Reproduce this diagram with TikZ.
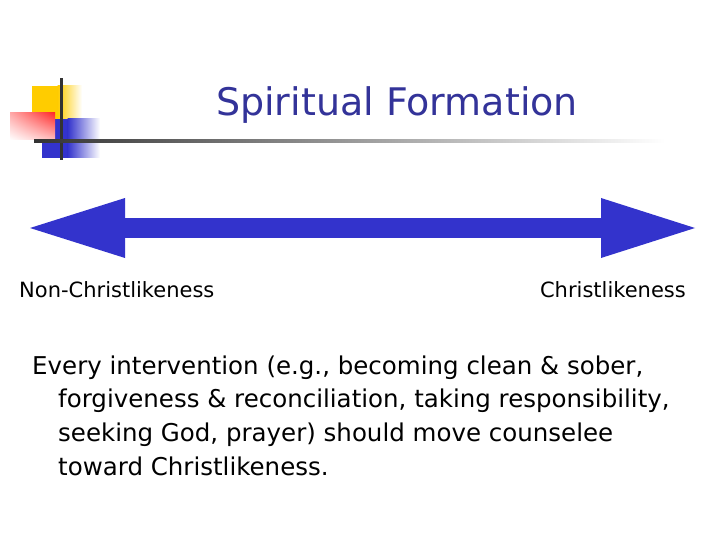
\documentclass[tikz,border=0pt]{standalone}
\usepackage{fontspec}
\setmainfont{DejaVu Sans}
\usetikzlibrary{arrows.meta,shadings}

\definecolor{spectrumblue}{HTML}{3333CC}
\definecolor{titleblue}{HTML}{333399}
\definecolor{logoyellow}{HTML}{FFCC00}
\definecolor{logored}{HTML}{FF2A2A}
\definecolor{logoline}{HTML}{333333}

\tikzset{
    titletext/.style = {inner sep=0pt, text=titleblue, font=\fontsize{38}{40}\selectfont},
    poletext/.style = {inner sep=0pt, font=\fontsize{21}{24}\selectfont},
    bodytext/.style = {inner sep=0pt, anchor=base west, font=\fontsize{24.5}{30}\selectfont},
    spectrum/.style = {spectrumblue, line width=20pt,
        {Triangle[length=95pt,width=60pt,line width=0pt 0]}-{Triangle[length=94pt,width=60pt,line width=0pt 0]}}
}

\begin{document}
\begin{tikzpicture}[x=1pt,y=-1pt]
    \useasboundingbox (0,0) rectangle (720,540);
    \fill[white] (0,0) rectangle (720,540);

    % logo in the corner
    \fill[logoyellow] (32,86) rectangle (58,119);
    \shade[left color=logoyellow, right color=white] (57.5,86) rectangle (82,119);
    \fill[spectrumblue] (42,119) rectangle (68,158);
    \shade[left color=spectrumblue, right color=white] (67.5,119) rectangle (100,158);
    \shade[upper left=logored!40, upper right=logored, lower left=white, lower right=logored!30]
        (10,113) rectangle (55,140);
    \fill[logoline] (59.5,78) rectangle (62.5,160);
    \shade[left color=logoline, right color=white] (34,139.8) rectangle (665,142.4);

    \node[titletext, anchor=base] (title) at (397,116) {Spiritual Formation};

    % the spectrum
    \coordinate (farend) at (30,228);
    \coordinate (nearend) at (695,228);
    \draw[spectrum] (farend) -- (nearend);

    \node[poletext, anchor=base west] (nonchrist) at (19,297) {Non-Christlikeness};
    \node[poletext, anchor=base east] (christ) at (686,297) {Christlikeness};

    \node[bodytext] (lineone) at (32,374) {Every intervention (e.g., becoming clean \& sober,};
    \node[bodytext] (linetwo) at (58,407.7) {forgiveness \& reconciliation, taking responsibility,};
    \node[bodytext] (linethree) at (58,441.4) {seeking God, prayer) should move counselee};
    \node[bodytext] (linefour) at (58,475) {toward Christlikeness.};
\end{tikzpicture}
\end{document}
